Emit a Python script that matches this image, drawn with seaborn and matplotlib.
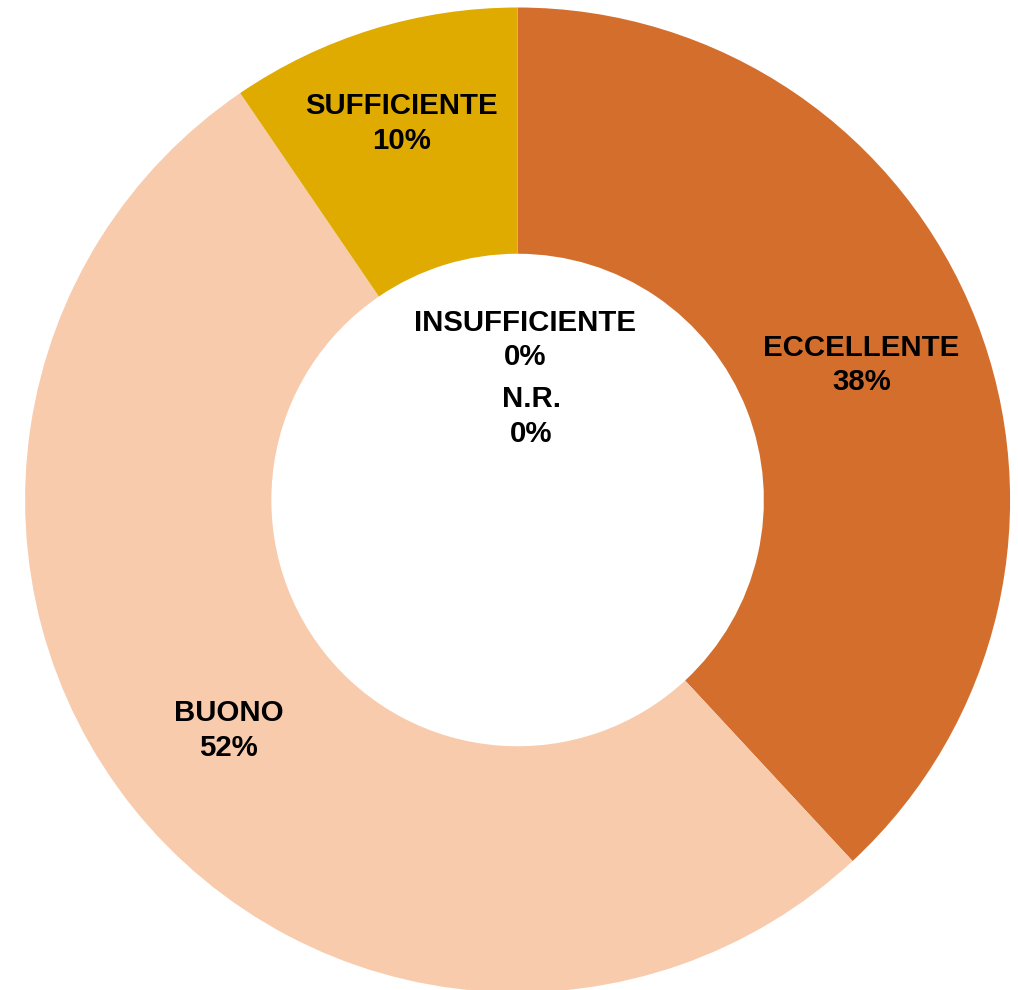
import numpy as np
import matplotlib
matplotlib.use("Agg")
import matplotlib.pyplot as plt
import seaborn as sns

categories = ["ECCELLENTE", "BUONO", "SUFFICIENTE", "INSUFFICIENTE", "N.R."]
counts = [8, 11, 2, 0, 0]
colors = ["#D46E2D", "#F8CBAD", "#E0AB00", "#A5A5A5", "#7F7F7F"]

sns.set_theme(style="white")
plt.rcParams['font.family'] = ['Liberation Sans', 'DejaVu Sans']

fig = plt.figure(figsize=(10.18, 9.9), dpi=100)
# square axes centred on the donut
ax = fig.add_axes([25.1 / 1018, -2.5 / 990, 985 / 1018, 985 / 990])

total = sum(counts)
labels = [f"{c}\n{round(100 * n / total)}%" for c, n in zip(categories, counts)]
wedges, texts = ax.pie(
    counts, labels=labels, colors=colors, startangle=90, counterclock=False,
    radius=1, labeldistance=0.75,
    wedgeprops=dict(width=0.5, linewidth=0),
    textprops=dict(fontsize=21.2, fontweight='bold', color='black'),
)

for t in texts:
    t.set_ha('center')
    t.set_va('center')
    t.set_linespacing(1.3)

# sufficiente label sits a bit further out
x, y = texts[2].get_position()
texts[2].set_position((x * 0.80 / 0.75, y * 0.80 / 0.75))
# zero slices: labels pulled into the hole
texts[3].set_position((0.016, 0.325))
texts[4].set_position((0.028, 0.17))

ax.set_xlim(-1, 1)
ax.set_ylim(-1, 1)
ax.set_aspect('equal')
ax.axis('off')

fig.savefig("out.png", dpi=100, facecolor='white')
